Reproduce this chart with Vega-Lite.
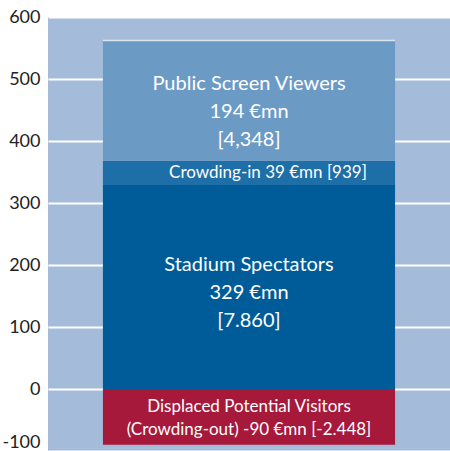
{
  "$schema": "https://vega.github.io/schema/vega-lite/v6.json",
  "width": 402,
  "height": 434,
  "autosize": {"type": "none"},
  "padding": {"left": 48, "top": 17, "right": 0, "bottom": 0},
  "background": "white",
  "config": {
    "view": {"fill": "#a4bcda", "stroke": null},
    "font": "Lato"
  },
  "data": {
    "values": [
      {"cat": "Total", "segment": "Displaced", "start": 0, "end": -90, "label": ["Displaced Potential Visitors", "(Crowding-out) -90 €mn [-2.448]"]},
      {"cat": "Total", "segment": "Stadium", "start": 0, "end": 329, "label": ["Stadium Spectators", "329 €mn", "[7.860]"]},
      {"cat": "Total", "segment": "Crowding", "start": 329, "end": 368, "label": ["Crowding-in 39 €mn [939]"]},
      {"cat": "Total", "segment": "Public", "start": 368, "end": 562, "label": ["Public Screen Viewers", "194 €mn", "[4,348]"]}
    ]
  },
  "transform": [{"calculate": "(datum.start + datum.end) / 2", "as": "mid"}],
  "encoding": {
    "x": {"field": "cat", "type": "nominal", "axis": null, "scale": {"paddingInner": 0, "paddingOuter": 0.188}}
  },
  "layer": [
    {
      "mark": {"type": "bar"},
      "encoding": {
        "y": {"field": "start", "type": "quantitative", "scale": {"domain": [-100, 600], "nice": false},
          "axis": {"values": [-100, 0, 100, 200, 300, 400, 500, 600], "title": null, "domain": false, "ticks": false,
            "labelFontSize": 18, "labelColor": "#222222", "labelPadding": 8, "gridColor": "white", "gridWidth": 2, "gridOpacity": 1, "labelFont": "Lato",
            "labelExpr": "toString(datum.value)",
            "labelBaseline": {"condition": {"test": "datum.value == -100", "value": "bottom"}, "value": "middle"}}},
        "y2": {"field": "end"},
        "color": {"field": "segment", "type": "nominal", "legend": null,
          "scale": {"domain": ["Displaced", "Stadium", "Crowding", "Public"], "range": ["#a6193b", "#005c98", "#1e6ea8", "#6b9ac5"]}}
      }
    },
    {
      "mark": {"type": "rule", "color": "white", "strokeWidth": 2},
      "encoding": {"y": {"datum": 0}}
    },
    {
      "transform": [{"filter": "datum.segment == 'Public'"}],
      "mark": {"type": "tick", "color": "white", "thickness": 1.5, "size": 292, "orient": "horizontal"},
      "encoding": {"y": {"field": "end", "type": "quantitative"}}
    },
    {
      "transform": [{"filter": "datum.segment == 'Public'"}],
      "mark": {"type": "text", "color": "white", "fontSize": 20, "lineHeight": 28, "baseline": "middle", "dy": -17},
      "encoding": {"y": {"field": "mid", "type": "quantitative"}, "text": {"field": "label"}}
    },
    {
      "transform": [{"filter": "datum.segment == 'Stadium'"}],
      "mark": {"type": "text", "color": "white", "fontSize": 20, "lineHeight": 28, "baseline": "middle", "dy": -22},
      "encoding": {"y": {"field": "mid", "type": "quantitative"}, "text": {"field": "label"}}
    },
    {
      "transform": [{"filter": "datum.segment == 'Crowding'"}],
      "mark": {"type": "text", "color": "white", "fontSize": 17, "baseline": "middle", "dx": 19},
      "encoding": {"y": {"field": "mid", "type": "quantitative"}, "text": {"field": "label"}}
    },
    {
      "transform": [{"filter": "datum.segment == 'Displaced'"}],
      "mark": {"type": "text", "color": "white", "fontSize": 17, "lineHeight": 23, "baseline": "middle", "dy": -10},
      "encoding": {"y": {"field": "mid", "type": "quantitative"}, "text": {"field": "label"}}
    }
  ]
}
